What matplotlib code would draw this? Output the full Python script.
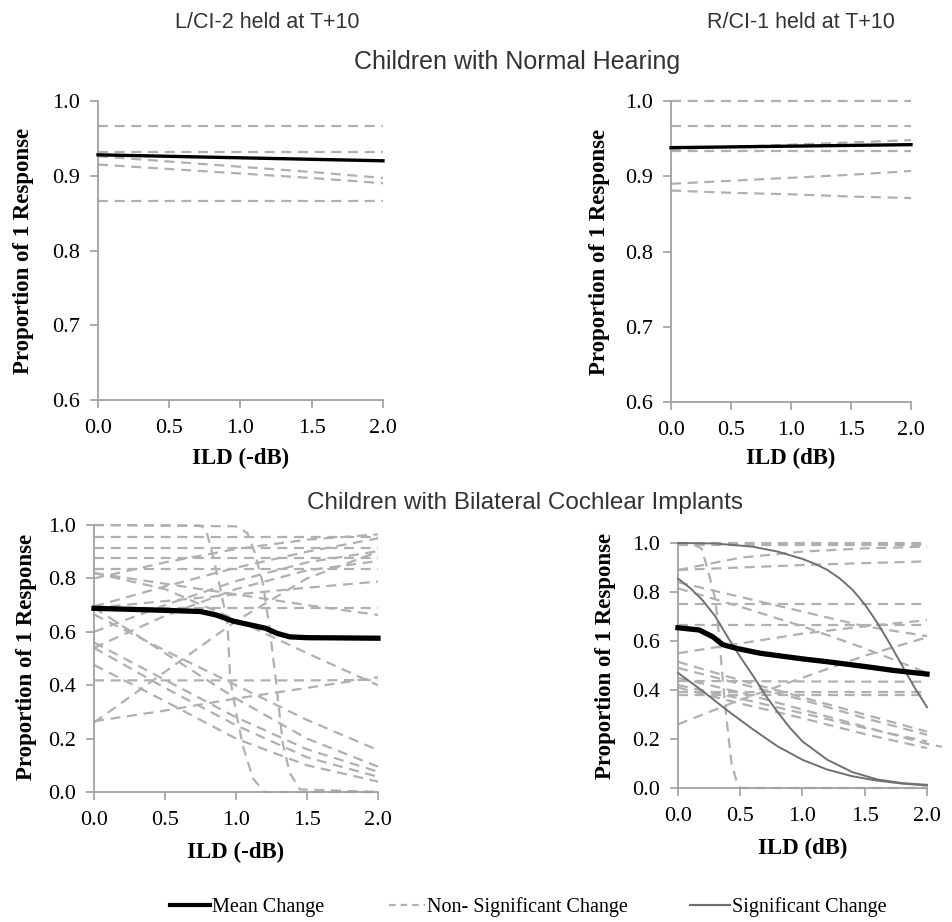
import matplotlib
matplotlib.use("Agg")
import matplotlib.pyplot as plt
from matplotlib.lines import Line2D

# ---------------- data ----------------
X5 = [0.0, 0.5, 1.0, 1.5, 2.0]

# Children with Normal Hearing, L/CI-2 held at T+10
nh_l_mean = [0.928, 0.926, 0.924, 0.922, 0.920]
nh_l_nonsig = [
    [0.967, 0.967, 0.967, 0.967, 0.967],
    [0.932, 0.932, 0.932, 0.932, 0.932],
    [0.866, 0.866, 0.866, 0.866, 0.866],
    [0.926, 0.919, 0.912, 0.905, 0.897],
    [0.915, 0.909, 0.903, 0.897, 0.890],
]

# Children with Normal Hearing, R/CI-1 held at T+10
nh_r_mean = [0.938, 0.939, 0.940, 0.941, 0.942]
nh_r_nonsig = [
    [1.000, 1.000, 1.000, 1.000, 1.000],
    [0.967, 0.967, 0.967, 0.967, 0.967],
    [0.933, 0.933, 0.933, 0.933, 0.933],
    [0.936, 0.939, 0.942, 0.945, 0.948],
    [0.890, 0.894, 0.898, 0.902, 0.907],
    [0.881, 0.878, 0.876, 0.873, 0.871],
]

# Children with Bilateral CI, L/CI-2 held
ci_l_mean_x = [0.0, 0.4, 0.75, 0.86, 0.98, 1.1, 1.21, 1.29, 1.38, 1.5, 1.75, 2.0]
ci_l_mean_y = [0.688, 0.682, 0.676, 0.663, 0.640, 0.626, 0.613, 0.594, 0.581, 0.578, 0.577, 0.576]
ci_l_nonsig = [
    [0.955, 0.955, 0.955, 0.955, 0.955],
    [0.915, 0.915, 0.915, 0.915, 0.915],
    [0.875, 0.875, 0.875, 0.875, 0.875],
    [0.835, 0.835, 0.835, 0.835, 0.835],
    [0.690, 0.690, 0.690, 0.690, 0.690],
    [0.418, 0.418, 0.418, 0.418, 0.420],
    [0.800, 0.860, 0.910, 0.945, 0.965],
    [0.695, 0.770, 0.840, 0.900, 0.950],
    [0.600, 0.700, 0.790, 0.860, 0.902],
    [0.540, 0.660, 0.760, 0.830, 0.865],
    [0.260, 0.450, 0.640, 0.800, 0.900],
    [0.690, 0.715, 0.740, 0.765, 0.788],
    [0.265, 0.305, 0.350, 0.390, 0.430],
    [0.820, 0.780, 0.740, 0.700, 0.663],
    [0.820, 0.760, 0.645, 0.520, 0.400],
    [0.665, 0.530, 0.400, 0.270, 0.157],
    [0.690, 0.520, 0.350, 0.200, 0.095],
    [0.560, 0.420, 0.280, 0.160, 0.076],
    [0.540, 0.390, 0.250, 0.130, 0.057],
    [0.476, 0.340, 0.200, 0.100, 0.039],
]
ci_l_steep = [
    ([0.0, 0.75, 0.79, 0.84, 0.89, 0.94, 0.96, 1.0, 1.05, 1.12, 1.2, 2.0],
     [1.0, 0.998, 0.98, 0.88, 0.76, 0.63, 0.42, 0.30, 0.17, 0.05, 0.0, 0.0]),
    ([0.0, 1.0, 1.08, 1.13, 1.19, 1.24, 1.28, 1.33, 1.38, 1.45, 2.0],
     [1.0, 0.995, 0.97, 0.90, 0.78, 0.60, 0.42, 0.18, 0.07, 0.01, 0.0]),
]

# Children with Bilateral CI, R/CI-1 held
ci_r_mean_x = [0.0, 0.17, 0.28, 0.36, 0.47, 0.66, 1.0, 1.19, 1.5, 1.73, 2.0]
ci_r_mean_y = [0.654, 0.645, 0.617, 0.585, 0.570, 0.550, 0.527, 0.516, 0.496, 0.480, 0.465]
ci_r_nonsig = [
    [1.000, 1.000, 1.000, 1.000, 1.000],
    [0.993, 0.993, 0.993, 0.993, 0.993],
    [0.890, 0.900, 0.910, 0.918, 0.925],
    [0.890, 0.940, 0.965, 0.978, 0.985],
    [0.750, 0.750, 0.750, 0.750, 0.750],
    [0.665, 0.665, 0.665, 0.665, 0.665],
    [0.840, 0.780, 0.720, 0.660, 0.620],
    [0.815, 0.740, 0.660, 0.570, 0.470],
    [0.550, 0.590, 0.630, 0.660, 0.685],
    [0.260, 0.360, 0.450, 0.540, 0.615],
    [0.437, 0.436, 0.435, 0.434, 0.434],
    [0.393, 0.393, 0.393, 0.393, 0.393],
    [0.380, 0.380, 0.380, 0.380, 0.380],
    [0.515, 0.440, 0.370, 0.300, 0.230],
    [0.490, 0.425, 0.360, 0.285, 0.217],
    [0.420, 0.365, 0.305, 0.245, 0.190],
    [0.410, 0.345, 0.285, 0.220, 0.163],
]
ci_r_long_x = [0.0, 0.5, 1.0, 1.5, 2.0, 2.12]
ci_r_long_y = [0.450, 0.390, 0.320, 0.250, 0.180, 0.168]
ci_r_steep_x = [0.0, 0.12, 0.19, 0.245, 0.30, 0.33, 0.36, 0.39, 0.43, 0.47, 0.50, 2.0]
ci_r_steep_y = [1.0, 0.995, 0.977, 0.88, 0.77, 0.62, 0.44, 0.28, 0.10, 0.03, 0.0, 0.0]
ci_r_sig = [
    ([0.0, 0.3, 0.6, 0.8, 1.0, 1.1, 1.2, 1.3, 1.4, 1.5, 1.6, 1.7, 1.8, 1.9, 2.0],
     [1.0, 0.998, 0.985, 0.965, 0.935, 0.915, 0.89, 0.855, 0.81, 0.75, 0.675, 0.59, 0.50, 0.41, 0.33]),
    ([0.0, 0.1, 0.2, 0.3, 0.4, 0.5, 0.6, 0.7, 0.8, 0.9, 1.0, 1.2, 1.4, 1.6, 1.8, 2.0],
     [0.855, 0.815, 0.765, 0.70, 0.615, 0.535, 0.46, 0.38, 0.31, 0.245, 0.19, 0.115, 0.065, 0.035, 0.02, 0.013]),
    ([0.0, 0.2, 0.4, 0.6, 0.8, 1.0, 1.2, 1.4, 1.6, 1.8, 2.0],
     [0.47, 0.395, 0.315, 0.24, 0.17, 0.115, 0.075, 0.048, 0.03, 0.018, 0.01]),
]

x_ticks = [0.0, 0.5, 1.0, 1.5, 2.0]

# ---------------- style ----------------
SERIF = "Liberation Serif"
SANS = "Liberation Sans"
DASH_C = "#b0b0b0"
SIG_C = "#707070"
SPINE_C = "#a0a0a0"
DASHES = (4.5, 3.0)

fig = plt.figure(figsize=(9.53, 9.22), dpi=100)

def px_axes(l, t, r, b):
    W, H = 953.0, 922.0
    return fig.add_axes([l / W, 1 - b / H, (r - l) / W, (b - t) / H])

def style(ax, ylim, yticks, xlabel, ylab_x, ylab_y, xlab_y):
    ax.set_xlim(0, 2)
    ax.set_ylim(*ylim)
    for s in ("top", "right"):
        ax.spines[s].set_visible(False)
    for s in ("left", "bottom"):
        ax.spines[s].set_color(SPINE_C)
        ax.spines[s].set_linewidth(1.3)
    ax.set_xticks(x_ticks)
    ax.set_xticklabels([f"{v:.1f}" for v in x_ticks])
    ax.set_yticks(yticks)
    ax.set_yticklabels([f"{v:.1f}" for v in yticks])
    ax.tick_params(direction="out", length=6, width=1.2, color=SPINE_C,
                   labelsize=16)
    ax.tick_params(axis="x", pad=8)
    ax.tick_params(axis="y", pad=7)
    for lab in ax.get_xticklabels() + ax.get_yticklabels():
        lab.set_family(SERIF)
    ax.set_ylabel("Proportion of 1 Response", family=SERIF, fontweight="bold",
                  fontsize=16.5, va="center")
    ax.yaxis.set_label_coords(ylab_x, ylab_y)
    ax.set_xlabel(xlabel, family=SERIF, fontweight="bold", fontsize=16.5, va="center")
    ax.xaxis.set_label_coords(0.5, xlab_y)

def dashed(ax, x, y):
    ax.plot(x, y, color=DASH_C, lw=1.6, dashes=DASHES, clip_on=False, zorder=2)

# Top-left
ax1 = px_axes(98, 101, 383, 400)
for ys in nh_l_nonsig:
    dashed(ax1, X5, ys)
ax1.plot(X5, nh_l_mean, color="black", lw=2.4, zorder=4, clip_on=False)
style(ax1, (0.6, 1.0), [0.6, 0.7, 0.8, 0.9, 1.0], "ILD (-dB)", -0.263, 0.5, -0.194)

# Top-right
ax2 = px_axes(671, 101, 911, 402)
for ys in nh_r_nonsig:
    dashed(ax2, X5, ys)
ax2.plot(X5, nh_r_mean, color="black", lw=2.4, zorder=4, clip_on=False)
style(ax2, (0.6, 1.0), [0.6, 0.7, 0.8, 0.9, 1.0], "ILD (dB)", -0.296, 0.5, -0.186)

# Bottom-left
ax3 = px_axes(94, 525, 378, 792)
for ys in ci_l_nonsig:
    dashed(ax3, X5, ys)
for xs, ys in ci_l_steep:
    dashed(ax3, xs, ys)
ax3.plot(ci_l_mean_x, ci_l_mean_y, color="black", lw=3.8, zorder=4, clip_on=False)
style(ax3, (0.0, 1.0), [0.0, 0.2, 0.4, 0.6, 0.8, 1.0], "ILD (-dB)", -0.236, 0.504, -0.225)

# Bottom-right
ax4 = px_axes(678, 543, 927, 788)
for ys in ci_r_nonsig:
    dashed(ax4, X5, ys)
dashed(ax4, ci_r_long_x, ci_r_long_y)
dashed(ax4, ci_r_steep_x, ci_r_steep_y)
for xs, ys in ci_r_sig:
    ax4.plot(xs, ys, color=SIG_C, lw=1.4, zorder=3, clip_on=False)
ax4.plot(ci_r_mean_x, ci_r_mean_y, color="black", lw=3.8, zorder=4, clip_on=False)
style(ax4, (0.0, 1.0), [0.0, 0.2, 0.4, 0.6, 0.8, 1.0], "ILD (dB)", -0.293, 0.54, -0.245)

# Titles
fig.text(267 / 953, 1 - 22 / 922, "L/CI-2 held at T+10", family=SANS, fontsize=15.5,
         ha="center", va="center", color="#333333")
fig.text(801 / 953, 1 - 22 / 922, "R/CI-1 held at T+10", family=SANS, fontsize=15.5,
         ha="center", va="center", color="#333333")
fig.text(517 / 953, 1 - 62 / 922, "Children with Normal Hearing", family=SANS,
         fontsize=18, ha="center", va="center", color="#333333")
fig.text(525 / 953, 1 - 503 / 922, "Children with Bilateral Cochlear Implants",
         family=SANS, fontsize=17.5, ha="center", va="center", color="#333333")

# Legend
leg_items = [
    (170, Line2D([], [], color="black", lw=3.0), "Mean Change", 2.0),
    (389, Line2D([], [], color=DASH_C, lw=1.6, dashes=(3, 2.2)), "Non- Significant Change", 1.8),
    (690, Line2D([], [], color=SIG_C, lw=1.6), "Significant Change", 2.0),
]
for xpx, h, lab, hl in leg_items:
    fig.legend([h], [lab], loc="center left", bbox_to_anchor=(xpx / 953, 1 - 907 / 922),
               frameon=False, borderpad=0, borderaxespad=0, handlelength=hl,
               handletextpad=0.1, prop={"family": SERIF, "size": 14.5})

fig.savefig("out.png", dpi=100, facecolor="white")
